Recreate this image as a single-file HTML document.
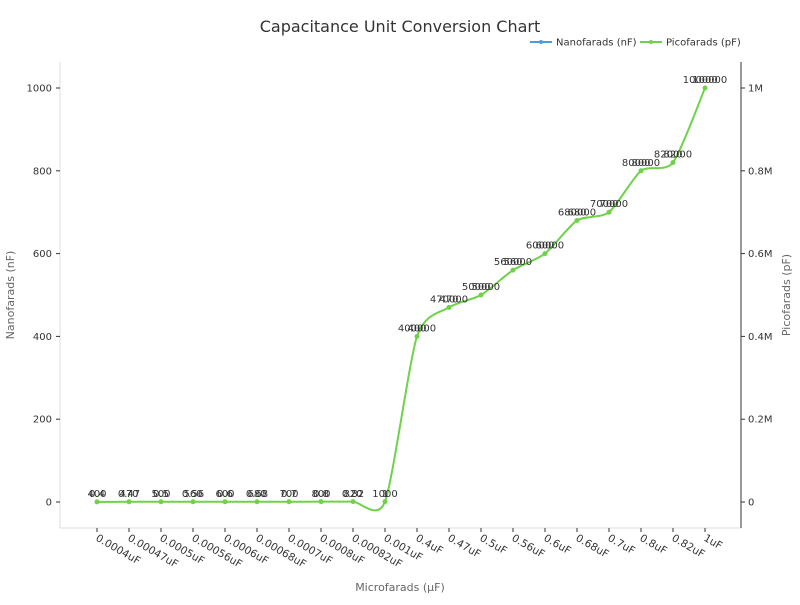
<!DOCTYPE html>
<html><head><meta charset="utf-8"><style>body{margin:0;background:#fff}svg{font-family:"DejaVu Sans","Liberation Sans",sans-serif}</style></head>
<body>
<svg id="s" width="800" height="600" viewBox="0 0 800 600">
<text x="400" y="32" text-anchor="middle" font-size="16" fill="#333">Capacitance Unit Conversion Chart</text>
<line x1="530" y1="42" x2="552" y2="42" stroke="#4a9ee0" stroke-width="2"/><circle cx="541" cy="42" r="2" fill="#4a9ee0"/>
<text x="556" y="45.5" font-size="10" fill="#333">Nanofarads (nF)</text>
<line x1="640" y1="42" x2="662" y2="42" stroke="#6fd24a" stroke-width="2"/><circle cx="651" cy="42" r="2" fill="#6fd24a"/>
<text x="666" y="45.5" font-size="10" fill="#333">Picofarads (pF)</text>
<line x1="60" y1="62" x2="60" y2="528" stroke="#ddd"/>
<line x1="60" y1="528" x2="741" y2="528" stroke="#ddd"/>
<line x1="741" y1="62" x2="741" y2="528" stroke="#333"/>
<g font-size="10" fill="#333" text-anchor="end">
<text x="52" y="505.5">0</text><text x="52" y="422.7">200</text><text x="52" y="339.9">400</text><text x="52" y="257.1">600</text><text x="52" y="174.3">800</text><text x="52" y="91.5">1000</text>
</g>
<g stroke="#333"><line x1="56" y1="502" x2="60" y2="502"/><line x1="56" y1="419.2" x2="60" y2="419.2"/><line x1="56" y1="336.4" x2="60" y2="336.4"/><line x1="56" y1="253.6" x2="60" y2="253.6"/><line x1="56" y1="170.8" x2="60" y2="170.8"/><line x1="56" y1="88" x2="60" y2="88"/>
<line x1="741" y1="502" x2="745" y2="502"/><line x1="741" y1="419.2" x2="745" y2="419.2"/><line x1="741" y1="336.4" x2="745" y2="336.4"/><line x1="741" y1="253.6" x2="745" y2="253.6"/><line x1="741" y1="170.8" x2="745" y2="170.8"/><line x1="741" y1="88" x2="745" y2="88"/></g>
<g font-size="10" fill="#333">
<text x="748" y="505.5">0</text><text x="748" y="422.7">0.2M</text><text x="748" y="339.9">0.4M</text><text x="748" y="257.1">0.6M</text><text x="748" y="174.3">0.8M</text><text x="748" y="91.5">1M</text>
</g>
<text transform="translate(14,295) rotate(-90)" text-anchor="middle" font-size="11" fill="#666">Nanofarads (nF)</text>
<text transform="translate(790,295) rotate(-90)" text-anchor="middle" font-size="11" fill="#666">Picofarads (pF)</text>
<text x="400" y="591" text-anchor="middle" font-size="11" fill="#666">Microfarads (µF)</text>
<g font-size="10.5" fill="#333">
<text transform="translate(95,540) rotate(30)">0.0004uF</text>
<text transform="translate(127,540) rotate(30)">0.00047uF</text>
<text transform="translate(159,540) rotate(30)">0.0005uF</text>
<text transform="translate(191,540) rotate(30)">0.00056uF</text>
<text transform="translate(223,540) rotate(30)">0.0006uF</text>
<text transform="translate(255,540) rotate(30)">0.00068uF</text>
<text transform="translate(287,540) rotate(30)">0.0007uF</text>
<text transform="translate(319,540) rotate(30)">0.0008uF</text>
<text transform="translate(351,540) rotate(30)">0.00082uF</text>
<text transform="translate(383,540) rotate(30)">0.001uF</text>
<text transform="translate(415,540) rotate(30)">0.4uF</text>
<text transform="translate(447,540) rotate(30)">0.47uF</text>
<text transform="translate(479,540) rotate(30)">0.5uF</text>
<text transform="translate(511,540) rotate(30)">0.56uF</text>
<text transform="translate(543,540) rotate(30)">0.6uF</text>
<text transform="translate(575,540) rotate(30)">0.68uF</text>
<text transform="translate(607,540) rotate(30)">0.7uF</text>
<text transform="translate(639,540) rotate(30)">0.8uF</text>
<text transform="translate(671,540) rotate(30)">0.82uF</text>
<text transform="translate(703,540) rotate(30)">1uF</text>
</g>
<g id="ticks" stroke="#333"></g>
<path id="p" fill="none" stroke="#6fd24a" stroke-width="2"/>
<g id="dots" fill="#6fd24a"></g>
<g font-size="10" fill="#333" text-anchor="middle">
<text x="97" y="497">0.4</text><text x="97" y="497">400</text>
<text x="129" y="497">0.47</text><text x="129" y="497">470</text>
<text x="161" y="497">0.5</text><text x="161" y="497">500</text>
<text x="193" y="497">0.56</text><text x="193" y="497">560</text>
<text x="225" y="497">0.6</text><text x="225" y="497">600</text>
<text x="257" y="497">0.68</text><text x="257" y="497">680</text>
<text x="289" y="497">0.7</text><text x="289" y="497">700</text>
<text x="321" y="497">0.8</text><text x="321" y="497">800</text>
<text x="353" y="497">0.82</text><text x="353" y="497">820</text>
<text x="385" y="497">1</text><text x="385" y="497">1000</text>
<text x="417" y="331.4">400</text><text x="417" y="331.4">400000</text>
<text x="449" y="302.4">470</text><text x="449" y="302.4">470000</text>
<text x="481" y="290">500</text><text x="481" y="290">500000</text>
<text x="513" y="265.2">560</text><text x="513" y="265.2">560000</text>
<text x="545" y="248.6">600</text><text x="545" y="248.6">600000</text>
<text x="577" y="215.5">680</text><text x="577" y="215.5">680000</text>
<text x="609" y="207.2">700</text><text x="609" y="207.2">700000</text>
<text x="641" y="165.8">800</text><text x="641" y="165.8">800000</text>
<text x="673" y="157.5">820</text><text x="673" y="157.5">820000</text>
<text x="705" y="83">1000</text><text x="705" y="83">1000000</text>
</g>
</svg>
<script>
var v=[0.4,0.47,0.5,0.56,0.6,0.68,0.7,0.8,0.82,1,400,470,500,560,600,680,700,800,820,1000];
var P=v.map(function(a,i){return [97+32*i,502-0.414*a];});
var d="M"+P[0][0]+","+P[0][1];
for(var i=0;i<P.length-1;i++){var p0=P[Math.max(i-1,0)],p1=P[i],p2=P[i+1],p3=P[Math.min(i+2,P.length-1)];
var t=0.12;d+=" C"+(p1[0]+(p2[0]-p0[0])*t)+","+(p1[1]+(p2[1]-p0[1])*t)+" "+(p2[0]-(p3[0]-p1[0])*t)+","+(p2[1]-(p3[1]-p1[1])*t)+" "+p2[0]+","+p2[1];}
document.getElementById("p").setAttribute("d",d);
var ns="http://www.w3.org/2000/svg",g=document.getElementById("dots"),tk=document.getElementById("ticks");
P.forEach(function(p){var c=document.createElementNS(ns,"circle");c.setAttribute("cx",p[0]);c.setAttribute("cy",p[1]);c.setAttribute("r",2.5);g.appendChild(c);
var l=document.createElementNS(ns,"line");l.setAttribute("x1",p[0]);l.setAttribute("x2",p[0]);l.setAttribute("y1",528);l.setAttribute("y2",532);tk.appendChild(l);});
</script>
</body></html>
